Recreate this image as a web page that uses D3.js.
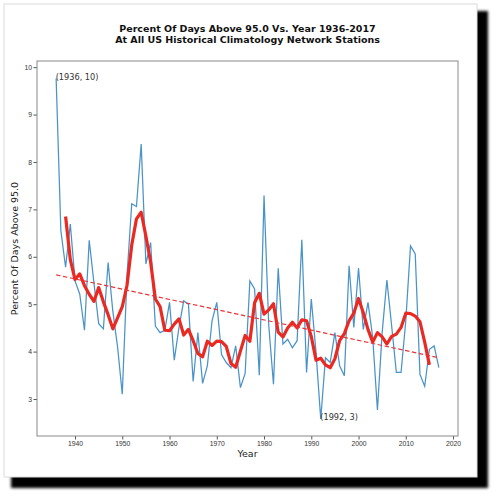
<!DOCTYPE html>
<html>
<head>
<meta charset="utf-8">
<script src="https://d3js.org/d3.v7.min.js"></script>
<style>
  body { margin: 0; background: #fff; }
  svg { display: block; font-family: "DejaVu Sans", sans-serif; }
  .tick text { fill: #333; font-size: 6.8px; }
  .tick line { stroke: #555; }
</style>
</head>
<body>
<div id="chart"></div>
<script>
var years = d3.range(1936, 2018);

// percent of days above 95.0, one value per year 1936-2017
var pctDays = [
  9.76, 6.55, 5.78, 6.69, 5.49, 5.21, 4.45, 6.35, 5.45, 4.59,
  4.48, 5.88, 4.85, 4.10, 3.10, 5.60, 7.12, 7.06, 8.38, 5.85,
  6.30, 4.54, 4.40, 4.45, 5.04, 3.82, 4.51, 5.07, 5.00, 3.37,
  4.40, 3.33, 3.70, 4.65, 5.04, 3.94, 3.77, 3.66, 4.12, 3.24,
  3.54, 5.49, 5.32, 3.50, 7.29, 4.55, 3.31, 5.76, 4.16, 4.26,
  4.08, 4.23, 6.36, 3.56, 5.11, 3.99, 2.58, 3.87, 3.77, 4.40,
  3.70, 3.49, 5.81, 4.51, 5.76, 4.47, 5.04, 4.30, 2.77, 4.40,
  5.51, 4.55, 3.56, 3.56, 4.65, 6.23, 6.06, 3.52, 3.27, 4.05,
  4.12, 3.66
];

// smoothed red curve, 1938-2015
var smoothYears = d3.range(1938, 2016);
var smoothVals = [
  6.85, 5.94, 5.52, 5.64, 5.39, 5.21, 5.06, 5.35, 5.05, 4.78,
  4.48, 4.71, 4.95, 5.40, 6.25, 6.80, 6.94, 6.43, 5.89, 5.11,
  4.95, 4.45, 4.44, 4.58, 4.69, 4.35, 4.47, 4.23, 3.96, 3.89,
  4.22, 4.13, 4.22, 4.21, 4.11, 3.75, 3.67, 4.01, 4.34, 4.22,
  5.03, 5.23, 4.79, 4.88, 5.01, 4.41, 4.31, 4.50, 4.62, 4.50,
  4.67, 4.65, 4.32, 3.82, 3.86, 3.72, 3.66, 3.85, 4.23, 4.38,
  4.65, 4.81, 5.12, 4.82, 4.47, 4.20, 4.40, 4.31, 4.16, 4.32,
  4.37, 4.51, 4.81, 4.80, 4.75, 4.63, 4.20, 3.72
];

// dashed trend line end points
var trendYears = [1936, 2017];
var trendVals = [5.62, 3.87];

var xTicks = [1940, 1950, 1960, 1970, 1980, 1990, 2000, 2010, 2020];
var yTicks = [3, 4, 5, 6, 7, 8, 9, 10];

var notes = [
  {year: 1936, value: 9.76, label: "(1936, 10)"},
  {year: 1992, value: 2.58, label: "(1992, 3)"}
];

var W = 500, H = 500;
var plot = {left: 37, top: 61, right: 458, bottom: 436};

var svg = d3.select("#chart").append("svg").attr("width", W).attr("height", H);

// card with drop shadow
var defs = svg.append("defs");
defs.append("filter").attr("id", "blur").attr("x", "-5%").attr("y", "-5%")
    .attr("width", "110%").attr("height", "110%")
  .append("feGaussianBlur").attr("stdDeviation", 1.6);

svg.append("rect")
    .attr("x", 11).attr("y", 11).attr("width", 477).attr("height", 477)
    .attr("fill", "#000").attr("filter", "url(#blur)");
svg.append("rect")
    .attr("x", 4).attr("y", 4).attr("width", 473).attr("height", 473)
    .attr("fill", "#fff").attr("stroke", "#dcdcdc").attr("stroke-width", 1);

var x = d3.scaleLinear().domain([1931.95, 2021.05]).range([plot.left, plot.right]);
var y = d3.scaleLinear().domain([2.22, 10.13]).range([plot.bottom, plot.top]);

svg.append("g")
    .attr("transform", "translate(0," + plot.bottom + ")")
    .call(d3.axisBottom(x).tickValues(xTicks).tickFormat(d3.format("d")).tickSize(3.5).tickPadding(2))
    .call(function(g) { g.select(".domain").remove(); });

svg.append("g")
    .attr("transform", "translate(" + plot.left + ",0)")
    .call(d3.axisLeft(y).tickValues(yTicks).tickSize(3.5).tickPadding(1.5))
    .call(function(g) { g.select(".domain").remove(); });

var line = d3.line()
    .x(function(d) { return x(d[0]); })
    .y(function(d) { return y(d[1]); });

svg.append("path")
    .datum(d3.zip(years, pctDays))
    .attr("fill", "none")
    .attr("stroke", "#4a93c9")
    .attr("stroke-width", 1.25)
    .attr("d", line);

svg.append("path")
    .datum(d3.zip(smoothYears, smoothVals))
    .attr("fill", "none")
    .attr("stroke", "#ea2a22")
    .attr("stroke-width", 3.2)
    .attr("stroke-linejoin", "round")
    .attr("d", line);

svg.append("path")
    .datum(d3.zip(trendYears, trendVals))
    .attr("fill", "none")
    .attr("stroke", "#e5363a")
    .attr("stroke-width", 1.2)
    .attr("stroke-dasharray", "4.5,2.5")
    .attr("d", line);

svg.append("rect")
    .attr("x", plot.left).attr("y", plot.top)
    .attr("width", plot.right - plot.left).attr("height", plot.bottom - plot.top)
    .attr("fill", "none").attr("stroke", "#8a8a8a").attr("stroke-width", 1);

svg.selectAll(".note")
    .data(notes)
    .enter().append("text")
    .attr("class", "note")
    .attr("x", function(d) { return x(d.year) - 0.5; })
    .attr("y", function(d) { return y(d.value) + 1; })
    .attr("font-size", 8.2)
    .attr("fill", "#333")
    .text(function(d) { return d.label; });

var title = svg.append("text")
    .attr("text-anchor", "middle")
    .attr("font-size", 9.5)
    .attr("font-weight", "bold")
    .attr("fill", "#111");
title.append("tspan").attr("x", 247.5).attr("y", 31.5).text("Percent Of Days Above 95.0 Vs. Year 1936-2017");
title.append("tspan").attr("x", 247.5).attr("y", 42.8).text("At All US Historical Climatology Network Stations");

svg.append("text")
    .attr("x", (plot.left + plot.right) / 2)
    .attr("y", 457)
    .attr("text-anchor", "middle")
    .attr("font-size", 9.5)
    .attr("fill", "#222")
    .text("Year");

svg.append("text")
    .attr("transform", "translate(18," + (plot.top + plot.bottom) / 2 + ") rotate(-90)")
    .attr("text-anchor", "middle")
    .attr("font-size", 9.5)
    .attr("fill", "#222")
    .text("Percent Of Days Above 95.0");
</script>
</body>
</html>
